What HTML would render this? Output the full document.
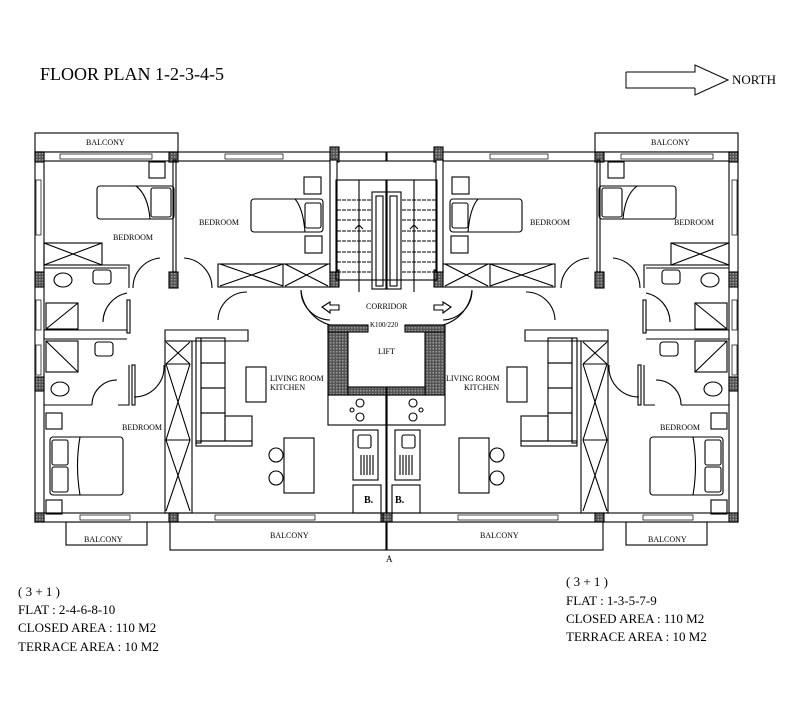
<!DOCTYPE html>
<html><head><meta charset="utf-8"><style>
html,body{margin:0;padding:0;background:#fff;}
svg{display:block;font-family:"Liberation Serif",serif;}
</style></head><body>
<svg width="797" height="720" viewBox="0 0 797 720" xmlns="http://www.w3.org/2000/svg">
<defs>
<pattern id="h" width="3" height="3" patternUnits="userSpaceOnUse"><rect width="3" height="3" fill="#555"/><rect width="1.5" height="1.5" fill="#999"/></pattern>
<g id="half" fill="none" stroke="#000" stroke-width="1.1">
  <rect x="35" y="133" width="143" height="19"/>
  <rect x="66" y="522" width="81" height="23"/>
  <rect x="170" y="522" width="216" height="28"/>
  <rect x="35" y="152" width="351" height="9" fill="#fff"/>
  <rect x="35" y="152" width="9" height="370" fill="#fff"/>
  <rect x="35" y="513" width="351" height="9" fill="#fff"/>
  <rect x="60" y="154" width="92" height="5" stroke-width="0.7"/>
  <rect x="225" y="154" width="58" height="5" stroke-width="0.7"/>
  <rect x="80" y="515" width="50" height="5" stroke-width="0.7"/>
  <rect x="215" y="515" width="100" height="5" stroke-width="0.7"/>
  <rect x="36" y="180" width="5" height="55" stroke-width="0.7"/>
  <rect x="36" y="300" width="5" height="30" stroke-width="0.7"/>
  <rect x="36" y="345" width="5" height="30" stroke-width="0.7"/>
  <rect x="35" y="152" width="9" height="10" fill="url(#h)"/>
  <rect x="169" y="152" width="9" height="10" fill="url(#h)"/>
  <rect x="330" y="147" width="9" height="15" fill="url(#h)"/>
  <rect x="35" y="272" width="9" height="15" fill="url(#h)"/>
  <rect x="35" y="377" width="9" height="14" fill="url(#h)"/>
  <rect x="35" y="513" width="9" height="9" fill="url(#h)"/>
  <rect x="169" y="513" width="9" height="9" fill="url(#h)"/>
  <rect x="169" y="272" width="9" height="16" fill="url(#h)"/>
  <rect x="330" y="270" width="9" height="17" fill="url(#h)"/>
  <rect x="381" y="513" width="9" height="9" fill="url(#h)"/>
  <rect x="173" y="160" width="3" height="112"/>
  <rect x="330" y="160" width="7" height="112" fill="#fff"/>
  <line x1="44" y1="243" x2="102" y2="243"/>
  <rect x="44" y="243" width="58" height="22"/><path d="M44 243 L102 265 M102 243 L44 265"/>
  <path d="M44 265 H129 V288"/><line x1="44" y1="268" x2="127" y2="268"/>
  <path d="M44 330 H127 V333"/><path d="M44 339 H127"/>
  <path d="M44 405 H92 M118 405 H129 V365"/>
  <rect x="127" y="300" width="3" height="33"/>
  <rect x="132" y="365" width="3" height="40"/>
  <path d="M218 287 H330"/><rect x="218" y="264" width="112" height="23"/>
  <path d="M220 264 L283 286 M283 264 L220 286 M285 264 L328 286 M328 264 L285 286"/>
  <line x1="283" y1="264" x2="283" y2="286"/>
  <path d="M165 330 H248 V341 H165 Z"/>
  <rect x="165" y="341" width="27" height="172"/>
  <path d="M166 342 L190 364 M190 342 L166 364 M166 364 L190 440 M190 364 L166 440 M166 440 L190 511 M190 440 L166 511"/>
  <line x1="166" y1="364" x2="190" y2="364"/><line x1="166" y1="440" x2="190" y2="440"/>
  <path d="M160 258 A30 30 0 0 0 133 288"/><path d="M184 258 A30 30 0 0 1 212 288"/>
  <path d="M103 322 A30 30 0 0 1 127 293"/>
  <path d="M134 397 A30 30 0 0 0 164 365"/>
  <path d="M92 405 A25 25 0 0 1 117 380"/>
  <path d="M218 320 A29 29 0 0 1 247 292"/>
  <path d="M301 290 A30 30 0 0 0 330 320"/>
  <rect x="149" y="162" width="16" height="16"/>
  <rect x="97" y="186" width="77" height="33" rx="3"/><rect x="151" y="188" width="20" height="29" rx="2"/>
  <path d="M136 186 Q148 195 150 219"/>
  <rect x="304" y="177" width="17" height="17"/><rect x="305" y="236" width="17" height="17"/>
  <rect x="251" y="199" width="72" height="33" rx="3"/><rect x="305" y="203" width="16" height="25" rx="2"/>
  <path d="M295 199 Q303 208 305 232"/>
  <ellipse cx="63" cy="280" rx="9" ry="7"/><rect x="93" y="270" width="18" height="14" rx="3"/>
  <rect x="46" y="303" width="32" height="26"/><path d="M46 329 L78 303"/>
  <rect x="46" y="341" width="32" height="31"/><path d="M46 341 L78 372"/>
  <rect x="95" y="342" width="18" height="14" rx="3"/><ellipse cx="60" cy="389" rx="9" ry="7"/>
  <rect x="46" y="413" width="16" height="16"/><rect x="46" y="500" width="16" height="14"/>
  <rect x="50" y="437" width="73" height="58" rx="3"/>
  <rect x="52" y="440" width="16" height="25" rx="2"/><rect x="52" y="467" width="16" height="25" rx="2"/>
  <path d="M80 437 Q75 465 80 495"/>
  <rect x="196" y="338" width="5" height="105"/>
  <rect x="201" y="338" width="24" height="25"/><rect x="201" y="363" width="24" height="25"/><rect x="201" y="388" width="24" height="25"/><rect x="201" y="413" width="24" height="28"/><rect x="225" y="416" width="27" height="25"/>
  <rect x="196" y="441" width="56" height="5"/>
  <rect x="246" y="367" width="20" height="35"/>
  <rect x="284" y="438" width="30" height="55"/>
  <circle cx="276" cy="455" r="7"/><circle cx="276" cy="478" r="7"/>
  <rect x="336" y="180" width="50" height="100"/>
  <rect x="372" y="192" width="14" height="97"/><rect x="376" y="196" width="7" height="90"/>
  <path d="M337 200 H372 M337 210 H372 M337 220 H372 M337 231 H372 M337 241 H372 M337 252 H372 M337 262 H372 M337 272 H372" stroke-dasharray="4,1"/>
  <path d="M359 180 V292 M355 229 L359 225 L363 229"/>
  <path d="M301 290 A40 40 0 0 0 330 325"/>
  <path d="M322 307 L330 302 V305 H339 V310 H330 V313 Z"/>
  <rect x="328" y="325" width="20" height="70" fill="url(#h)"/><rect x="328" y="325" width="40" height="7" fill="url(#h)"/>
  <rect x="348" y="387" width="38" height="8" fill="url(#h)"/>
  <rect x="328" y="395" width="58" height="30"/><circle cx="360" cy="403" r="4"/><circle cx="360" cy="417" r="4"/><circle cx="352" cy="410" r="2"/>
  <rect x="353" y="430" width="25" height="50"/><rect x="358" y="435" width="13" height="13" rx="2"/>
  <path d="M361 455 V475 M364 455 V475 M367 455 V475 M370 455 V475 M373 455 V475"/>
  <rect x="353" y="485" width="28" height="28"/>
  <line x1="386" y1="395" x2="386" y2="513"/>
</g>
</defs>
<use href="#half"/>
<use href="#half" transform="translate(773,0) scale(-1,1)"/>
<g font-size="8" fill="#000" stroke="none">
<text x="86" y="145">BALCONY</text><text x="651" y="145">BALCONY</text>
<text x="113" y="240">BEDROOM</text><text x="199" y="225">BEDROOM</text>
<text x="530" y="225">BEDROOM</text><text x="674" y="225">BEDROOM</text>
<text x="122" y="430">BEDROOM</text><text x="660" y="430">BEDROOM</text>
<text x="366" y="309">CORRIDOR</text><text x="370" y="327" font-size="7">K100/220</text>
<text x="378" y="354">LIFT</text>
<text x="270" y="381">LIVING ROOM</text><text x="270" y="390">KITCHEN</text>
<text x="446" y="381">LIVING ROOM</text><text x="464" y="390">KITCHEN</text>
<text x="84" y="542">BALCONY</text><text x="270" y="538">BALCONY</text>
<text x="480" y="538">BALCONY</text><text x="648" y="542">BALCONY</text>
<text x="364" y="503" font-size="10" font-weight="bold">B.</text><text x="395" y="503" font-size="10" font-weight="bold">B.</text>
<text x="386" y="562" font-size="9">A</text>
</g>
<text x="40" y="80" font-size="18">FLOOR PLAN  1-2-3-4-5</text>
<path d="M626 72 H695 V65 L728 80 L695 95 V88 M626 72 V88 H695" fill="none" stroke="#000"/>
<text x="732" y="84" font-size="13">NORTH</text>
<g font-size="13">
<text x="18" y="596">( 3 + 1 )</text><text x="18" y="614">FLAT : 2-4-6-8-10</text>
<text x="18" y="632">CLOSED AREA :  110 M2</text><text x="18" y="651">TERRACE AREA :  10 M2</text>
<text x="566" y="586">( 3 + 1 )</text><text x="566" y="605">FLAT : 1-3-5-7-9</text>
<text x="566" y="623">CLOSED AREA : 110 M2</text><text x="566" y="641">TERRACE AREA : 10 M2</text>
</g>
</svg>
</body></html>
